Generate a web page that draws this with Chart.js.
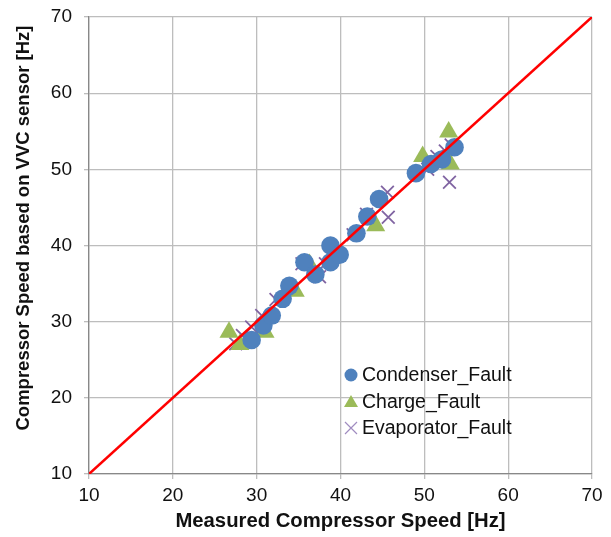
<!DOCTYPE html>
<html lang="en">
<head>
    <meta charset="UTF-8">
    <title>Compressor Speed</title>
    <script src="https://cdn.jsdelivr.net/npm/chart.js@4"></script>
    <style>
        body { margin: 0; background: white; }
        #wrap { width: 611px; height: 537px; }
    </style>
</head>
<body>
    <div id="wrap"><canvas id="chart"></canvas></div>
<script>
    // measured speed (x) and VVC-sensor estimate (y)
    var condenserX = [29.4, 30.8, 31.8, 33.1, 33.9, 35.7, 37.0, 38.8, 38.8, 39.9, 41.9, 43.2, 44.6, 49.0, 50.8, 52.1, 53.6];
    var condenserY = [27.6, 29.5, 30.8, 33.0, 34.7, 37.8, 36.2, 37.8, 40.0, 38.8, 41.6, 43.8, 46.1, 49.5, 50.7, 51.3, 52.9];

    var chargeX = [26.7, 28.0, 31.0, 34.6, 36.3, 44.2, 49.8, 52.9, 53.1];
    var chargeY = [28.6, 27.0, 28.6, 34.0, 37.5, 42.6, 51.7, 54.9, 50.7];

    var evapX = [27.5, 28.3, 29.4, 30.6, 32.3, 35.4, 37.5, 38.2, 41.5, 43.1, 45.6, 45.7, 50.4, 50.6, 51.5, 52.5, 53.2, 53.0];
    var evapY = [27.1, 28.2, 29.3, 30.8, 32.9, 37.6, 35.9, 37.6, 41.4, 44.1, 47.0, 43.7, 50.0, 51.1, 51.7, 52.4, 53.2, 48.3];

    var lineX = [10, 70];
    var axisMin = 10, axisMax = 70, axisStep = 10;

    var xTitle = 'Measured Compressor Speed [Hz]';
    var yTitle = 'Compressor Speed based on VVC sensor [Hz]';

    function pts(xs, ys) {
        return xs.map(function(x, i) { return { x: x, y: ys[i] }; });
    }

    var blue = '#4F81BD', green = '#9BBB59', purple = '#8064A2';
    var fontFamily = '"Liberation Sans", Arial, sans-serif';

    var legendItems = [
        { label: 'Condenser_Fault', color: blue, shape: 'circle' },
        { label: 'Charge_Fault', color: green, shape: 'triangle' },
        { label: 'Evaporator_Fault', color: '#A08CC0', shape: 'cross' }
    ];

    // legend inside the plot (lower right) + y title a bit above centre
    var extras = {
        id: 'extras',
        afterDraw: function(chart) {
            var ctx = chart.ctx;
            var x0 = 351, y0 = 375, rowH = 26.5;
            ctx.save();
            ctx.font = '19.5px ' + fontFamily;
            ctx.textBaseline = 'middle';
            legendItems.forEach(function(item, i) {
                var y = y0 + i * rowH;
                ctx.fillStyle = item.color;
                ctx.strokeStyle = item.color;
                if (item.shape == 'circle') {
                    ctx.beginPath();
                    ctx.arc(x0, y, 6.5, 0, Math.PI * 2);
                    ctx.fill();
                } else if (item.shape == 'triangle') {
                    ctx.beginPath();
                    ctx.moveTo(x0, y - 6.5);
                    ctx.lineTo(x0 + 7, y + 5.5);
                    ctx.lineTo(x0 - 7, y + 5.5);
                    ctx.closePath();
                    ctx.fill();
                } else {
                    ctx.lineWidth = 1.2;
                    ctx.beginPath();
                    ctx.moveTo(x0 - 6, y - 6); ctx.lineTo(x0 + 6, y + 6);
                    ctx.moveTo(x0 + 6, y - 6); ctx.lineTo(x0 - 6, y + 6);
                    ctx.stroke();
                }
                ctx.fillStyle = '#111';
                ctx.fillText(item.label, x0 + 11, y + 1);
            });

            ctx.translate(24, 228);
            ctx.rotate(-Math.PI / 2);
            ctx.font = 'bold 18.5px ' + fontFamily;
            ctx.textAlign = 'center';
            ctx.fillStyle = '#111';
            ctx.fillText(yTitle, 0, 0);
            ctx.restore();
        }
    };

    var tickFont = { family: fontFamily, size: 19 };

    function noOverflow(axis) {
        axis.paddingTop = 0;
        axis.paddingBottom = 0;
        axis.paddingLeft = 0;
        axis.paddingRight = 0;
    }

    new Chart(document.getElementById('chart'), {
        type: 'scatter',
        data: {
            datasets: [{
                label: 'Condenser_Fault',
                data: pts(condenserX, condenserY),
                backgroundColor: blue,
                borderColor: blue,
                pointStyle: 'circle',
                pointRadius: 9.3,
                pointBorderWidth: 0
            }, {
                label: 'Charge_Fault',
                data: pts(chargeX, chargeY),
                backgroundColor: green,
                borderColor: green,
                pointStyle: 'triangle',
                pointRadius: 11,
                pointBorderWidth: 0
            }, {
                label: 'Evaporator_Fault',
                data: pts(evapX, evapY),
                backgroundColor: purple,
                borderColor: purple,
                pointStyle: 'cross',
                pointRotation: 45,
                pointRadius: 9,
                pointBorderWidth: 1.8
            }, {
                type: 'line',
                label: 'y = x',
                data: pts(lineX, lineX),
                borderColor: '#FF0000',
                borderWidth: 2.5,
                pointRadius: 0,
                order: -1
            }]
        },
        options: {
            responsive: true,
            maintainAspectRatio: false,
            animation: false,
            layout: { padding: { left: 2, right: 19, top: 17, bottom: 0 } },
            plugins: {
                legend: { display: false },
                tooltip: { enabled: false }
            },
            scales: {
                x: {
                    type: 'linear',
                    min: axisMin, max: axisMax,
                    ticks: { stepSize: axisStep, color: '#111', font: tickFont, padding: 5, maxRotation: 0 },
                    grid: { color: '#BDBDBD', tickLength: 5, lineWidth: 1.3 },
                    border: { color: '#888', width: 1.3 },
                    title: {
                        display: true,
                        text: xTitle,
                        color: '#111',
                        font: { family: fontFamily, size: 20.3, weight: 'bold' },
                        padding: { top: 4, bottom: 3 }
                    },
                    afterFit: function(axis) { axis.height = 63; noOverflow(axis); }
                },
                y: {
                    type: 'linear',
                    min: axisMin, max: axisMax,
                    ticks: { stepSize: axisStep, color: '#111', font: tickFont, padding: 12 },
                    grid: { color: '#BDBDBD', tickLength: 5, lineWidth: 1.3 },
                    border: { color: '#888', width: 1.3 },
                    title: { display: false },
                    afterFit: function(axis) { axis.width = 87; noOverflow(axis); }
                }
            }
        },
        plugins: [extras]
    });
</script>
</body>
</html>
